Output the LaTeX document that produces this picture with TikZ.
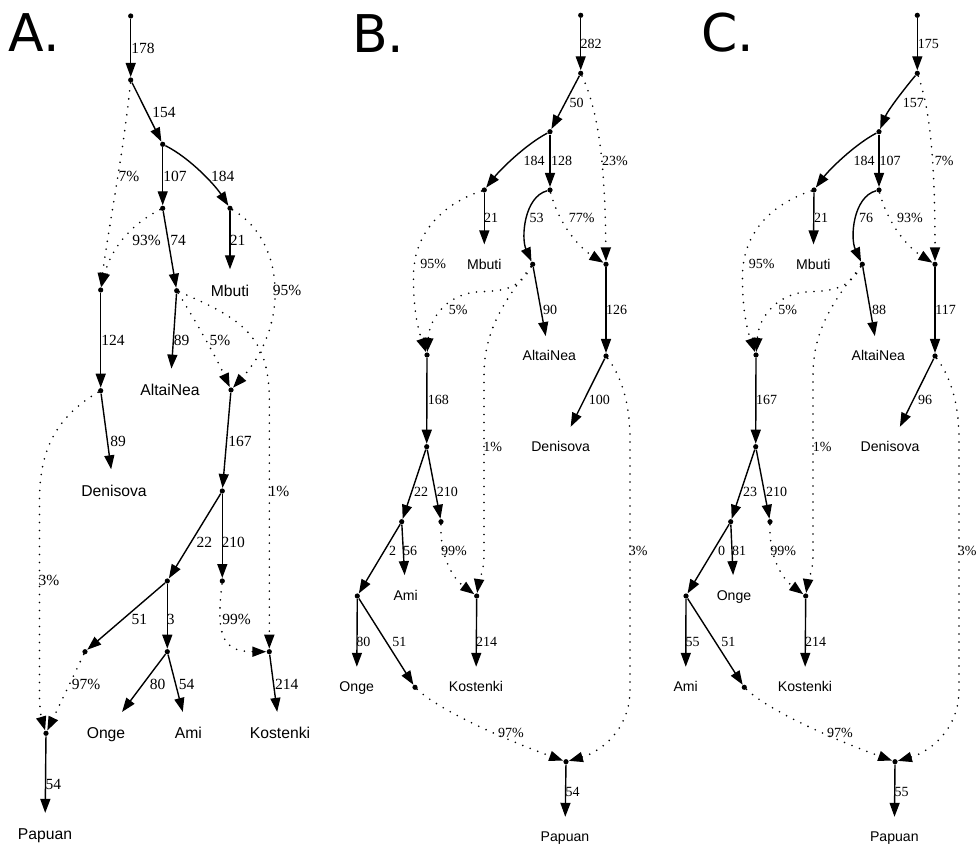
\documentclass[tikz,border=0pt]{standalone}
\usepackage{fontspec}
\newfontfamily\namefont{Liberation Sans}
\newfontfamily\numfont{Liberation Serif}
\newfontfamily\panelfont{DejaVu Sans}
\usetikzlibrary{arrows.meta}

\begin{document}
\begin{tikzpicture}[x=0.5pt, y=-0.5pt,
    dot/.style={circle, fill, inner sep=0pt, minimum size=2.6pt},
    leaf/.style={font=\namefont\fontsize{7.05pt}{8pt}\selectfont, inner sep=0pt, text height=5pt, text depth=0pt, minimum height=19.5pt, minimum width=30pt},
    elabel/.style={font=\numfont\fontsize{7pt}{8pt}\selectfont, inner sep=0pt},
    panel/.style={font=\panelfont\fontsize{26pt}{30pt}\selectfont, inner sep=0pt},
    arrow/.style={line width=0.7pt, -{Triangle[length=7pt,width=5pt]}},
    admix/.style={arrow, line width=0.9pt, line cap=round, dash pattern=on 0pt off 4pt}]
\useasboundingbox (0,0) rectangle (978,849);

% panel A
\node[panel] (pA) at (34.3,32.2) {A.};
\begin{scope}[leaf/.append style={font=\namefont\fontsize{7.85pt}{9pt}\selectfont, text height=5.6pt, minimum height=21pt},
    elabel/.append style={font=\numfont\fontsize{7.75pt}{9pt}\selectfont}]
\node[dot] (A0) at (130.7,16) {};
\node[dot] (A1) at (130.7,80) {};
\node[dot] (A2) at (162.7,144.3) {};
\node[dot] (A3) at (162.7,208.3) {};
\node[dot] (A4) at (230,208.3) {};
\node[dot] (A5) at (100.7,290) {};
\node[dot] (A6) at (176.7,290.7) {};
\node[dot] (A7) at (231,390) {};
\node[dot] (A9) at (100.7,390.7) {};
\node[dot] (A11) at (222.3,491) {};
\node[dot] (A12) at (167.3,581) {};
\node[dot] (A13) at (222.3,581) {};
\node[dot] (A14) at (85,651.7) {};
\node[dot] (A15) at (167.3,651.7) {};
\node[dot] (A8) at (269.3,651.7) {};
\node[dot] (A10) at (46,733.3) {};
\node[leaf] (AMbuti) at (230,290.7) {Mbuti};
\node[leaf] (AAltai) at (170,390) {AltaiNea};
\node[leaf] (ADeni) at (114,490.7) {Denisova};
\node[leaf] (AOnge) at (106,733.3) {Onge};
\node[leaf] (AAmi) at (188.3,733.3) {Ami};
\node[leaf] (AKost) at (280,733.3) {Kostenki};
\node[leaf] (APapu) at (45,834.3) {Papuan};
\draw[arrow] (A0) -- (A1);
\draw[arrow] (A1) -- (A2);
\draw[admix] (A1) .. controls (124,150) and (108,230) .. (A5);
\draw[arrow] (A2) -- (A3);
\draw[arrow] (A2) .. controls (190,158) and (215,185) .. (A4);
\draw[admix] (A3) .. controls (135,222) and (112,245) .. (A5);
\draw[arrow] (A3) -- (A6);
\draw[arrow] (A4) -- (AMbuti);
\draw[admix] (A4) .. controls (285,240) and (290,325) .. (A7);
\draw[arrow] (A5) -- (A9);
\draw[arrow] (A6) -- (AAltai);
\draw[admix] (A6) .. controls (195,320) and (215,355) .. (A7);
\draw[admix] (A6) .. controls (240,318) and (269.3,335) .. (269.3,400) -- (A8);
\draw[arrow] (A9) -- (ADeni);
\draw[admix] (A9) .. controls (60,415) and (39.5,445) .. (39.5,500) -- (39.5,695) .. controls (39.5,712) and (42,720) .. (A10);
\draw[arrow] (A7) -- (A11);
\draw[arrow] (A11) -- (A12);
\draw[arrow] (A11) -- (A13);
\draw[admix] (A13) .. controls (216,635) and (222,651.7) .. (A8);
\draw[arrow] (A8) -- (AKost);
\draw[arrow] (A12) -- (A14);
\draw[arrow] (A12) -- (A15);
\draw[arrow] (A15) -- (AOnge);
\draw[arrow] (A15) -- (AAmi);
\draw[admix] (A14) -- (A10);
\draw[arrow] (A10) -- (APapu);
\node[elabel] (lA178) at (143,48) {178};
\node[elabel] (lA154) at (164,112) {154};
\node[elabel] (lA7p) at (129,176) {7\%};
\node[elabel] (lA107) at (175,176) {107};
\node[elabel] (lA184) at (222.7,176) {184};
\node[elabel] (lA93p) at (146.7,240) {93\%};
\node[elabel] (lA74) at (178,240) {74};
\node[elabel] (lA21) at (237.7,240) {21};
\node[elabel] (lA95p) at (287,290.7) {95\%};
\node[elabel] (lA124) at (113,340) {124};
\node[elabel] (lA89a) at (181.7,340) {89};
\node[elabel] (lA5p) at (220,340) {5\%};
\node[elabel] (lA167) at (240,441) {167};
\node[elabel] (lA89b) at (118,441) {89};
\node[elabel] (lA1p) at (279,491.7) {1\%};
\node[elabel] (lA22) at (204.3,542.3) {22};
\node[elabel] (lA210) at (233.3,542.3) {210};
\node[elabel] (lA3p) at (49,580.7) {3\%};
\node[elabel] (lA51) at (139.3,619) {51};
\node[elabel] (lA3) at (170.7,619) {3};
\node[elabel] (lA99p) at (236.7,619) {99\%};
\node[elabel] (lA97p) at (86,684.3) {97\%};
\node[elabel] (lA80) at (157.7,684.3) {80};
\node[elabel] (lA54a) at (186.7,684.3) {54};
\node[elabel] (lA214) at (286.7,684.3) {214};
\node[elabel] (lA54b) at (53.3,784.3) {54};
\end{scope}

% panel B
\node[panel] (pB) at (378.3,33.3) {B.};
\node[dot] (B0) at (580.7,15.3) {};
\node[dot] (B1) at (580.7,73.3) {};
\node[dot] (B2) at (550,131.7) {};
\node[dot] (B3) at (484.3,190) {};
\node[dot] (B4) at (550,190) {};
\node[dot] (Bad) at (606,264.3) {};
\node[dot] (B5) at (532.7,264.3) {};
\node[dot] (B7) at (427,355) {};
\node[dot] (B6) at (606,356) {};
\node[dot] (B8) at (426.7,446.7) {};
\node[dot] (B9) at (401.7,521.7) {};
\node[dot] (B10) at (441,521.7) {};
\node[dot] (B11) at (357.3,596) {};
\node[dot] (Bk) at (476.7,596) {};
\node[dot] (B12) at (415,687.3) {};
\node[dot] (Bp) at (566,761.7) {};
\node[leaf] (BMbuti) at (484.3,264.3) {Mbuti};
\node[leaf] (BAltai) at (549.3,356) {AltaiNea};
\node[leaf] (BDeni) at (560.7,446.7) {Denisova};
\node[leaf] (BAmi) at (405.7,595) {Ami};
\node[leaf] (BOnge) at (356.7,686.7) {Onge};
\node[leaf] (BKost) at (476,686.7) {Kostenki};
\node[leaf] (BPapu) at (565,836.7) {Papuan};
\draw[arrow] (B0) -- (B1);
\draw[arrow] (B1) -- (B2);
\draw[admix] (B1) .. controls (598,110) and (605,160) .. (Bad);
\draw[arrow] (B2) .. controls (525,145) and (500,170) .. (B3);
\draw[arrow] (B2) -- (B4);
\draw[arrow] (B3) -- (BMbuti);
\draw[admix] (B3) .. controls (440,205) and (414,235) .. (413.5,275) .. controls (413,315) and (420,335) .. (B7);
\draw[arrow] (B4) .. controls (524,197) and (521,238) .. (B5);
\draw[admix] (B4) .. controls (558,222) and (578,247) .. (Bad);
\draw[arrow] (B5) -- (BAltai);
\draw[admix] (B5) .. controls (520,288) and (505,291) .. (480,291.7) .. controls (450,293) and (430,315) .. (B7);
\draw[admix] (B5) .. controls (505,300) and (484,330) .. (484,375) -- (484,555) .. controls (484,572) and (479,580) .. (Bk);
\draw[arrow] (Bad) -- (B6);
\draw[arrow] (B6) -- (BDeni);
\draw[admix] (B6) .. controls (620,375) and (630,400) .. (630,440) -- (630,690) .. controls (630,730) and (600,752) .. (Bp);
\draw[arrow] (B7) -- (B8);
\draw[arrow] (B8) -- (B9);
\draw[arrow] (B8) -- (B10);
\draw[arrow] (B9) -- (B11);
\draw[arrow] (B9) -- (BAmi);
\draw[admix] (B10) .. controls (440,560) and (455,580) .. (Bk);
\draw[arrow] (Bk) -- (BKost);
\draw[arrow] (B11) -- (BOnge);
\draw[arrow] (B11) -- (B12);
\draw[admix] (B12) .. controls (445,715) and (520,745) .. (Bp);
\draw[arrow] (Bp) -- (BPapu);
\node[elabel] (lB282) at (591,44.3) {282};
\node[elabel] (lB50) at (576.7,102.7) {50};
\node[elabel] (lB23p) at (615,161) {23\%};
\node[elabel] (lB184) at (534,161) {184};
\node[elabel] (lB128) at (561.7,161) {128};
\node[elabel] (lB21) at (491,218.3) {21};
\node[elabel] (lB53) at (536.7,218.3) {53};
\node[elabel] (lB77p) at (581.7,218.3) {77\%};
\node[elabel] (lB95p) at (433.3,264.3) {95\%};
\node[elabel] (lB5p) at (458.3,310) {5\%};
\node[elabel] (lB90) at (550,310) {90};
\node[elabel] (lB126) at (616.7,310) {126};
\node[elabel] (lB168) at (438.3,400) {168};
\node[elabel] (lB100) at (599.3,400) {100};
\node[elabel] (lB1p) at (492.7,446.7) {1\%};
\node[elabel] (lB22) at (421,491.7) {22};
\node[elabel] (lB210) at (447.3,491.7) {210};
\node[elabel] (lB2) at (392.7,550.7) {2};
\node[elabel] (lB56) at (410,550.7) {56};
\node[elabel] (lB99p) at (454,550.7) {99\%};
\node[elabel] (lB3p) at (638.3,551) {3\%};
\node[elabel] (lB80) at (363.3,641.7) {80};
\node[elabel] (lB51) at (399.3,641.7) {51};
\node[elabel] (lB214) at (486.7,641.7) {214};
\node[elabel] (lB97p) at (511,733.3) {97\%};
\node[elabel] (lB54) at (572.7,791.7) {54};

% panel C
\node[panel] (pC) at (727.5,33) {C.};
\node[dot] (C0) at (917.3,15.3) {};
\node[dot] (C1) at (917.3,73.3) {};
\node[dot] (C2) at (879,131.7) {};
\node[dot] (C3) at (814,190) {};
\node[dot] (C4) at (879,190) {};
\node[dot] (Cad) at (935,264.3) {};
\node[dot] (C5) at (862.3,264.3) {};
\node[dot] (C7) at (756,355) {};
\node[dot] (C6) at (935,356) {};
\node[dot] (C8) at (755.7,446.7) {};
\node[dot] (C9) at (730.7,521.7) {};
\node[dot] (C10) at (770,521.7) {};
\node[dot] (C11) at (686,596) {};
\node[dot] (Ck) at (805.7,596) {};
\node[dot] (C12) at (744.3,687.3) {};
\node[dot] (Cp) at (895,761.7) {};
\node[leaf] (CMbuti) at (813.3,264.3) {Mbuti};
\node[leaf] (CAltai) at (878.3,356) {AltaiNea};
\node[leaf] (CDeni) at (890,446.7) {Denisova};
\node[leaf] (COnge) at (734,595) {Onge};
\node[leaf] (CAmi) at (685.7,686.7) {Ami};
\node[leaf] (CKost) at (805,686.7) {Kostenki};
\node[leaf] (CPapu) at (894.3,836.7) {Papuan};
\draw[arrow] (C0) -- (C1);
\draw[arrow] (C1) .. controls (905,88) and (888,110) .. (C2);
\draw[admix] (C1) .. controls (930,110) and (935,160) .. (Cad);
\draw[arrow] (C2) .. controls (854,145) and (829,170) .. (C3);
\draw[arrow] (C2) -- (C4);
\draw[arrow] (C3) -- (CMbuti);
\draw[admix] (C3) .. controls (769,205) and (743,235) .. (742.5,275) .. controls (742,315) and (749,335) .. (C7);
\draw[arrow] (C4) .. controls (853,197) and (850,238) .. (C5);
\draw[admix] (C4) .. controls (887,222) and (907,247) .. (Cad);
\draw[arrow] (C5) -- (CAltai);
\draw[admix] (C5) .. controls (849,288) and (834,291) .. (809,291.7) .. controls (779,293) and (759,315) .. (C7);
\draw[admix] (C5) .. controls (834,300) and (813,330) .. (813,375) -- (813,555) .. controls (813,572) and (808,580) .. (Ck);
\draw[arrow] (Cad) -- (C6);
\draw[arrow] (C6) -- (CDeni);
\draw[admix] (C6) .. controls (949,375) and (959,400) .. (959,440) -- (959,690) .. controls (959,730) and (929,752) .. (Cp);
\draw[arrow] (C7) -- (C8);
\draw[arrow] (C8) -- (C9);
\draw[arrow] (C8) -- (C10);
\draw[arrow] (C9) -- (C11);
\draw[arrow] (C9) -- (COnge);
\draw[admix] (C10) .. controls (769,560) and (784,580) .. (Ck);
\draw[arrow] (Ck) -- (CKost);
\draw[arrow] (C11) -- (CAmi);
\draw[arrow] (C11) -- (C12);
\draw[admix] (C12) .. controls (774,715) and (849,745) .. (Cp);
\draw[arrow] (Cp) -- (CPapu);
\node[elabel] (lC175) at (928.3,44.3) {175};
\node[elabel] (lC157) at (913.3,102.7) {157};
\node[elabel] (lC7p) at (944.3,161) {7\%};
\node[elabel] (lC184) at (864,161) {184};
\node[elabel] (lC107) at (890,161) {107};
\node[elabel] (lC21) at (821,218.3) {21};
\node[elabel] (lC76) at (866,218.3) {76};
\node[elabel] (lC93p) at (910,218.3) {93\%};
\node[elabel] (lC95p) at (761.7,264.3) {95\%};
\node[elabel] (lC5p) at (787.7,310) {5\%};
\node[elabel] (lC88) at (879,310) {88};
\node[elabel] (lC117) at (945.7,310) {117};
\node[elabel] (lC167) at (766.7,400) {167};
\node[elabel] (lC96) at (925,400) {96};
\node[elabel] (lC1p) at (822.3,446.7) {1\%};
\node[elabel] (lC23) at (750,491.7) {23};
\node[elabel] (lC210) at (776.7,491.7) {210};
\node[elabel] (lC0) at (721.7,550.7) {0};
\node[elabel] (lC81) at (739,550.7) {81};
\node[elabel] (lC99p) at (783.3,550.7) {99\%};
\node[elabel] (lC3p) at (967.3,551) {3\%};
\node[elabel] (lC55a) at (692.7,641.7) {55};
\node[elabel] (lC51) at (728.3,641.7) {51};
\node[elabel] (lC214) at (815.7,641.7) {214};
\node[elabel] (lC97p) at (840,733.3) {97\%};
\node[elabel] (lC55b) at (901.7,791.7) {55};
\end{tikzpicture}
\end{document}
